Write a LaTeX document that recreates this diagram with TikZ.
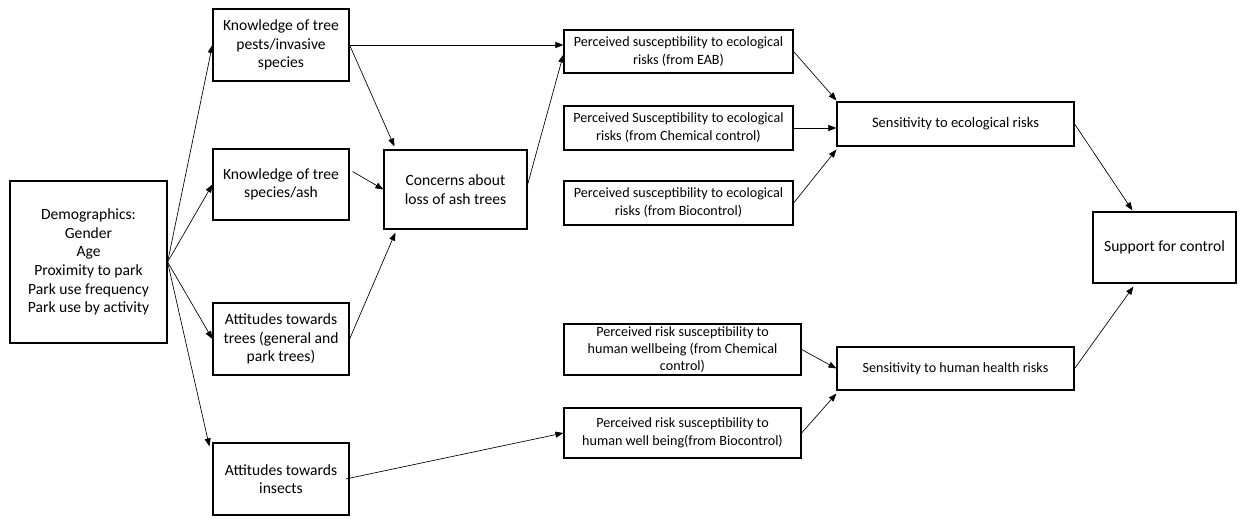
\documentclass[tikz,border=0pt]{standalone}
\usepackage{fontspec}
\setmainfont{Carlito}
\usetikzlibrary{arrows.meta,calc}
\begin{document}
\begin{tikzpicture}[x=0.75pt,y=-0.75pt,
  box/.style={draw, line width=0.9pt, align=center, inner sep=0pt, font=\fontsize{11.7}{14}\selectfont},
  sbox/.style={box, font=\fontsize{10.6}{13.6}\selectfont},
  arr/.style={line width=0.5pt, -{Triangle[length=6pt,width=4.5pt]}}]
\useasboundingbox (0,0) rectangle (1241,518);
\fill[white] (0,0) rectangle (1241,518);
% column 1
\node[box, minimum width=117.75pt, minimum height=121.5pt] (demo) at (88.5,262)
  {Demographics:\\Gender\\Age\\Proximity to park\\Park use frequency\\Park use by activity};
% column 2
\node[box, minimum width=102pt, minimum height=54pt] (k1) at (281,45) {Knowledge of tree\\pests/invasive\\species};
\node[box, minimum width=102pt, minimum height=53.25pt] (k2) at (281,184.5) {Knowledge of tree\\species/ash};
\node[box, minimum width=102pt, minimum height=54pt] (att) at (281,339) {Attitudes towards\\trees (general and\\park trees)};
\node[box, minimum width=102pt, minimum height=54pt] (ins) at (281,479) {Attitudes towards\\insects};
% column 3
\node[box, minimum width=107.25pt, minimum height=59.25pt] (con) at (455.5,189.5) {Concerns about\\loss of ash trees};
% column 4
\node[sbox, minimum width=171.75pt, minimum height=32.25pt] (eab) at (678.5,51.5) {Perceived susceptibility to ecological\\risks (from EAB)};
\node[sbox, minimum width=171.75pt, minimum height=33pt] (chem) at (678.5,128) {Perceived Susceptibility to ecological\\risks (from Chemical control)};
\node[sbox, minimum width=171.75pt, minimum height=33pt] (bio) at (678.5,203) {Perceived susceptibility to ecological\\risks (from Biocontrol)};
\node[sbox, minimum width=177.75pt, minimum height=38.25pt, font=\fontsize{10.6}{12.8}\selectfont] (hchem) at (682.5,349.5) {Perceived risk susceptibility to\\human wellbeing (from Chemical\\control)};
\node[sbox, minimum width=177.75pt, minimum height=37.5pt] (hbio) at (682.5,433) {Perceived risk susceptibility to\\human well being(from Biocontrol)};
% column 5
\node[sbox, font=\fontsize{10.9}{13.6}\selectfont, minimum width=177.75pt, minimum height=33pt] (seco) at (955.5,124) {Sensitivity to ecological risks};
\node[sbox, minimum width=177.75pt, minimum height=32.25pt] (shum) at (955.5,368.5) {Sensitivity to human health risks};
% column 6
\node[box, minimum width=107.25pt, minimum height=53.25pt] (sup) at (1164.5,247.5) {Support for control};
% connectors
\draw[arr] (demo.east) -- (k1.west);
\draw[arr] (demo.east) -- (k2.west);
\draw[arr] (demo.east) -- (att.west);
\draw[arr] (demo.east) -- ($(ins.north west)+(-3,4)$);
\draw[arr] (k1.east) -- (k1.east -| eab.west);
\draw[arr] (k1.east) -- ($(con.north west)+(11,-3)$);
\draw[arr] ($(k2.east)+(3,-13)$) -- (con.west);
\draw[arr] (att.east) -- ($(con.south west)+(12,3)$);
\draw[arr] ($(con.east)+(0,-5)$) -- ($(eab.west)+(0,3)$);
\draw[arr] ($(ins.east)+(-4,0)$) -- (hbio.west);
\draw[arr] (eab.east) -- ($(seco.north west)+(0,-1)$);
\draw[arr] (chem.east) -- (chem.east -| seco.west);
\draw[arr] (bio.east) -- ($(seco.south west)+(0,3)$);
\draw[arr] (seco.east) -- ($(sup.north west)+(40,-1)$);
\draw[arr] (hchem.east) -- (shum.west);
\draw[arr] (hbio.east) -- ($(shum.south west)+(0,3)$);
\draw[arr] (shum.east) -- ($(sup.south west)+(41,3)$);
\end{tikzpicture}
\end{document}
